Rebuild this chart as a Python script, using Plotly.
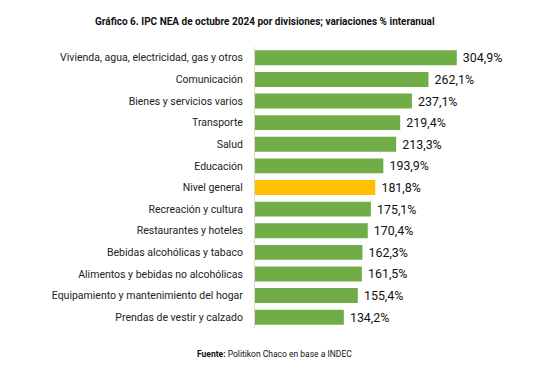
import plotly.graph_objects as go

categories = [
    "Vivienda, agua, electricidad, gas y otros",
    "Comunicación",
    "Bienes y servicios varios",
    "Transporte",
    "Salud",
    "Educación",
    "Nivel general",
    "Recreación y cultura",
    "Restaurantes y hoteles",
    "Bebidas alcohólicas y tabaco",
    "Alimentos y bebidas no alcohólicas",
    "Equipamiento y mantenimiento del hogar",
    "Prendas de vestir y calzado",
]
values = [304.9, 262.1, 237.1, 219.4, 213.3, 193.9, 181.8, 175.1, 170.4, 162.3, 161.5, 155.4, 134.2]
highlight = "Nivel general"
title_text = "<b>Gráfico 6. IPC NEA de octubre 2024 por divisiones; variaciones % interanual</b>"
source_text = "<b>Fuente:</b> Politikon Chaco en base a INDEC"

colors = ["#FFC000" if c == highlight else "#70AD47" for c in categories]
labels = [" " + f"{v:.1f}%".replace(".", ",") for v in values]

OFF = 8  # page body margin
W, H = 545 - OFF, 371 - OFF
left = 255 - OFF
top = 47 - OFF
bottom_px = 328 - OFF
px_per_unit = 202 / 304.9
xmax = 340
right_px = left + xmax * px_per_unit
plot_w = right_px - left
plot_h = bottom_px - top

def px_to_paper(px, py):
    return (px - OFF - left) / plot_w, 1 - (py - OFF - top) / plot_h

fig = go.Figure(go.Bar(
    y=categories, x=values, orientation="h",
    marker=dict(color=colors, line=dict(width=0)),
    text=labels, textposition="outside",
    textfont=dict(size=12.5, color="#111111"),
    cliponaxis=False,
))

tx, ty = px_to_paper(265, 22)
sx, sy = px_to_paper(275, 354)

fig.update_layout(
    width=W, height=H,
    margin=dict(l=left, r=W - right_px, t=top, b=H - bottom_px, autoexpand=False),
    paper_bgcolor="white", plot_bgcolor="white",
    bargap=0.31,
    showlegend=False,
    font=dict(family="Roboto, Arial", color="#222222"),
    xaxis=dict(range=[0, xmax], visible=False, fixedrange=True),
    yaxis=dict(
        autorange="reversed", showgrid=False, zeroline=False,
        showline=True, linecolor="#D9D9D9", linewidth=1,
        ticks="", ticklabelstandoff=9,
        tickfont=dict(size=10.5, color="#222222"),
    ),
    annotations=[
        dict(text=title_text, x=tx, y=ty, xref="paper", yref="paper",
             xanchor="center", yanchor="middle", showarrow=False,
             font=dict(size=10, color="#111111")),
        dict(text=source_text, x=sx, y=sy, xref="paper", yref="paper",
             xanchor="center", yanchor="middle", showarrow=False,
             font=dict(size=8.5, color="#111111")),
    ],
)

fig.write_html("out.html")
